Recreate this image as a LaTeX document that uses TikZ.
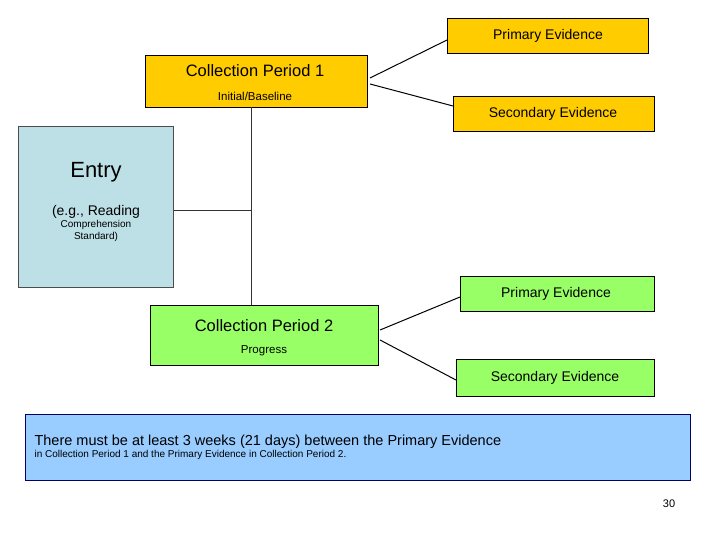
\documentclass[tikz,border=0pt]{standalone}
\usepackage{fontspec}
\setmainfont{Liberation Sans}
\begin{document}
\begin{tikzpicture}[x=1pt,y=-1pt,
  gold/.style={draw=black,fill=gold,line width=1pt},
  grn/.style={draw=black,fill=lgreen,line width=1pt},
  conn/.style={draw=black,line width=1pt}]
\definecolor{gold}{HTML}{FFCC00}
\definecolor{lgreen}{HTML}{99FF66}
\definecolor{lblue}{HTML}{BDE0E6}
\definecolor{tblue}{HTML}{99CCFF}
\useasboundingbox (0,0) rectangle (720,540);
% top group
\node[gold,minimum width=201pt,minimum height=35pt,anchor=north west,inner sep=0] (pe1) at (447,18) {};
\node at (548,36) {\fontsize{14}{16}\selectfont Primary Evidence};
\node[gold,minimum width=222pt,minimum height=52pt,anchor=north west,inner sep=0] (cp1) at (145,55) {};
\node at (255,71) {\fontsize{16.5}{18}\selectfont Collection Period 1};
\node at (255,96) {\fontsize{11.5}{13}\selectfont Initial/Baseline};
\node[gold,minimum width=201pt,minimum height=35pt,anchor=north west,inner sep=0] (se1) at (453,96) {};
\node at (553,114) {\fontsize{14}{16}\selectfont Secondary Evidence};
\coordinate (a1) at (370,78);
\coordinate (a2) at (370,84);
\draw[conn] (a1) -- (pe1.west |- 0,40) ;
\draw[conn] (a2) -- (se1.west |- 0,106);
% entry
\node[draw=black!70,fill=lblue,line width=1pt,minimum width=155pt,minimum height=161pt,anchor=north west,inner sep=0] (entry) at (18,126) {};
\node at (96,172) {\fontsize{22}{24}\selectfont Entry};
\node[align=center] at (96,223) {\fontsize{14}{24}\selectfont (e.g., Reading\\Comprehension\\Standard)};
\coordinate (v1) at (251,107);
\coordinate (v2) at (251,305);
\coordinate (h2) at (251,210);
\draw[black!80] (v1) -- (v2);
\draw[black!80] (entry.east |- h2) -- (h2);
% bottom group
\node[grn,minimum width=194pt,minimum height=35pt,anchor=north west,inner sep=0] (pe2) at (460,276) {};
\node at (556,294) {\fontsize{14}{16}\selectfont Primary Evidence};
\node[grn,minimum width=228pt,minimum height=60pt,anchor=north west,inner sep=0] (cp2) at (150,305) {};
\node at (264,326) {\fontsize{16.5}{18}\selectfont Collection Period 2};
\node at (264,351) {\fontsize{11.5}{13}\selectfont Progress};
\node[grn,minimum width=198pt,minimum height=37pt,anchor=north west,inner sep=0] (se2) at (456,359) {};
\node at (555,378) {\fontsize{14}{16}\selectfont Secondary Evidence};
\coordinate (b1) at (380,330);
\coordinate (b2) at (380,340);
\draw[conn] (b1) -- (pe2.west |- 0,297);
\draw[conn] (b2) -- (se2.west |- 0,380);
% note
\node[draw=black!60!blue,fill=tblue,line width=1pt,minimum width=665pt,minimum height=66pt,anchor=north west,inner sep=0] (note) at (25,414) {};
\node[anchor=west,align=left] at (31,447) {\fontsize{14.5}{23}\selectfont There must be at least 3 weeks (21 days) between the Primary Evidence\\in Collection Period 1 and the Primary Evidence in Collection Period 2.};
\node (pg) at (669,504) {\fontsize{11}{13}\selectfont 30};
\end{tikzpicture}
\end{document}
